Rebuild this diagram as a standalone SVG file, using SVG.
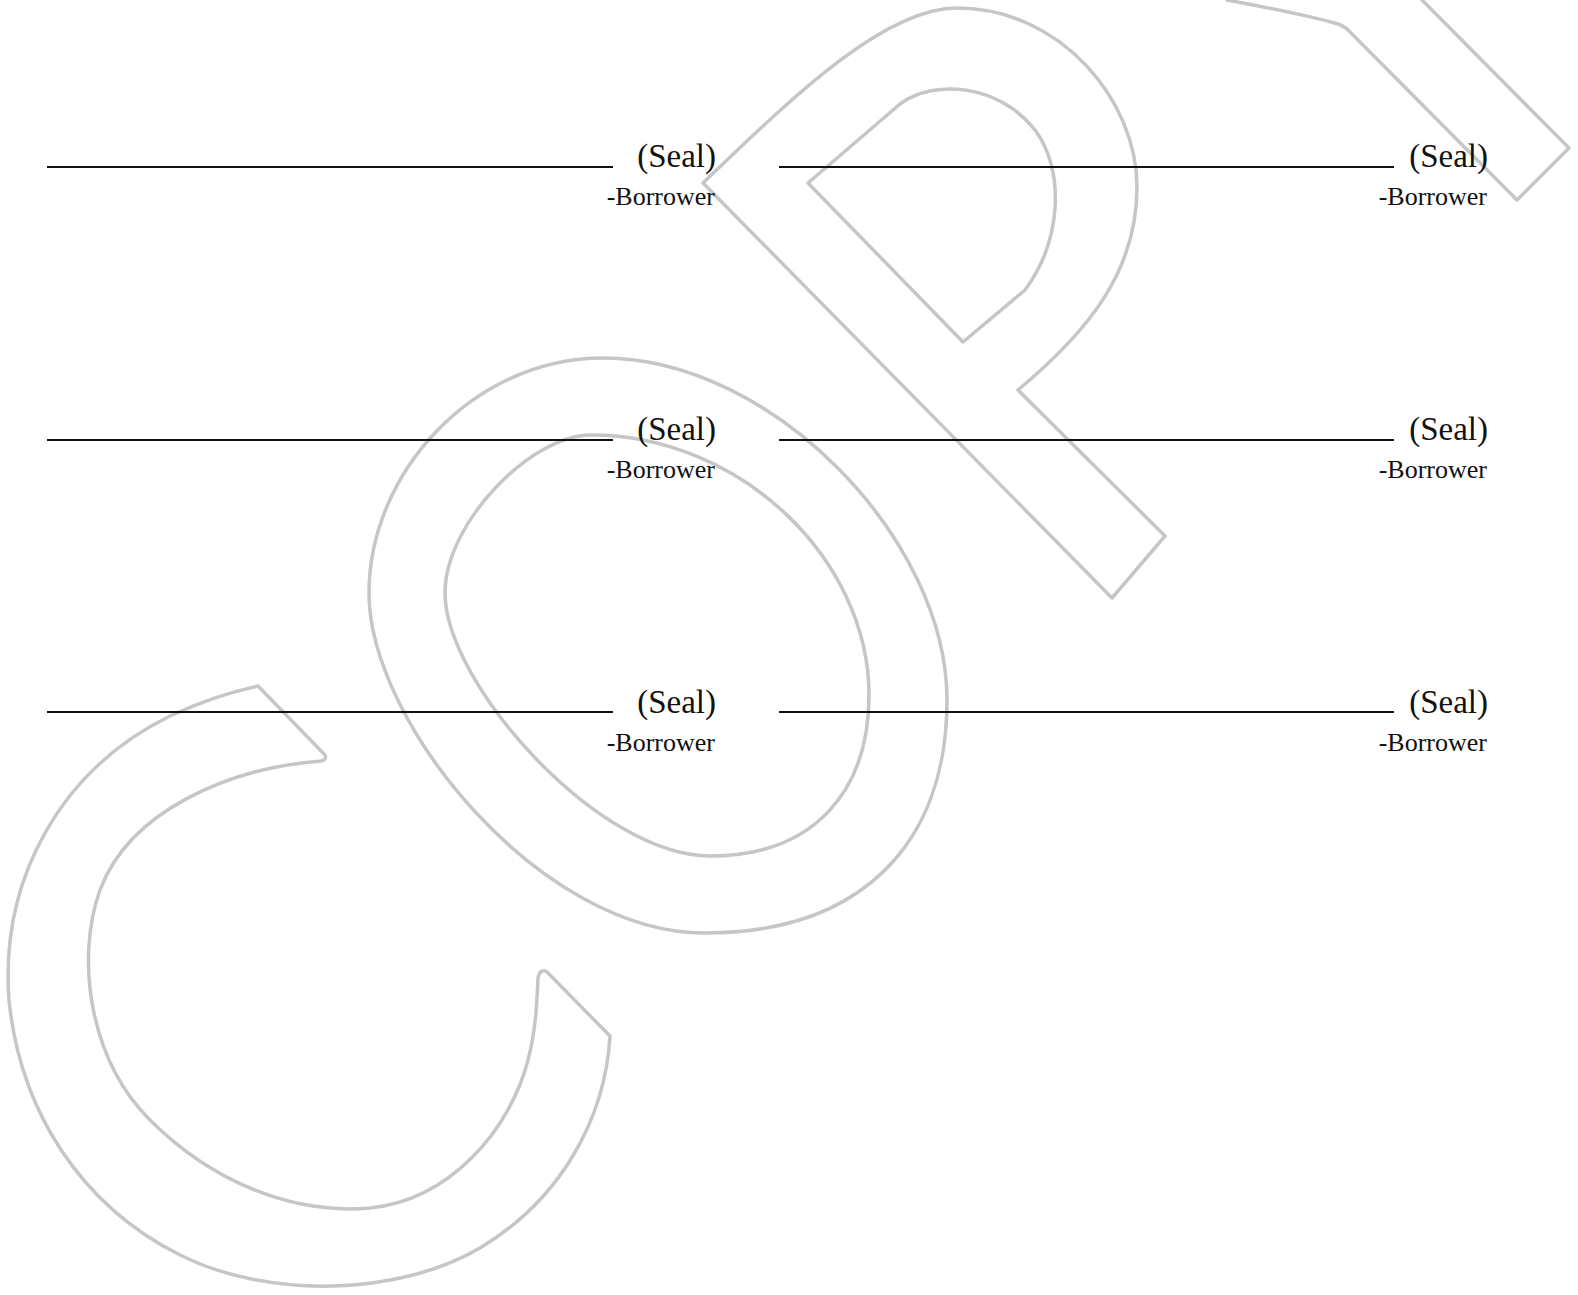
<svg xmlns="http://www.w3.org/2000/svg" width="1578" height="1295" viewBox="0 0 1578 1295">
<style>
.wm{fill:none;stroke:#c6c6c6;stroke-width:3.5;stroke-linejoin:round;stroke-linecap:round}
.sig{stroke:#111;stroke-width:2}
.seal{font-family:"Liberation Serif","Times New Roman",serif;font-size:33px;fill:#111;text-anchor:end}
.bor{font-family:"Liberation Serif","Times New Roman",serif;font-size:26px;fill:#111;text-anchor:end}
</style>
<rect width="1578" height="1295" fill="#ffffff"/>
<g id="watermark">
<path id="wm-c" class="wm" d="M 258 686 L 325 755 Q 327 760 321 761 C 230 768 130 810 100 890 C 75 960 90 1060 150 1120 C 210 1180 290 1215 370 1208 C 450 1200 510 1130 528 1060 C 536 1030 537 1000 538 978 Q 540 968 547 972 L 610 1036 C 605 1120 560 1200 480 1248 C 400 1295 270 1300 180 1255 C 80 1205 20 1110 9 1000 C 0 880 60 770 170 716 C 200 702 230 692 258 686 Z"/>
<path id="wm-o-outer" class="wm" d="M 603 358 C 773 358 947 540 947 700 C 947 845 860 933 705 933 C 540 933 369 723 369 593 C 369 473 473 358 603 358 Z"/>
<path id="wm-o-inner" class="wm" d="M 591 435 C 741 435 869 560 869 695 C 869 790 815 856 710 856 C 598 856 445 683 445 593 C 445 523 531 435 591 435 Z"/>
<path id="wm-p-outer" class="wm" d="M 703 183 C 780 110 880 8 957 8 C 1060 8 1137 100 1137 187 C 1137 270 1090 330 1018 390 L 1165 536 L 1112 598 Z"/>
<path id="wm-p-inner" class="wm" d="M 808 183 L 900 104 C 935 78 1000 85 1035 130 C 1065 170 1062 240 1025 290 L 963 342 Z"/>
<path id="wm-y" class="wm" d="M 1227 0 C 1270 8 1310 16 1338 24 Q 1346 27 1351 33 L 1517 200 L 1569 148 L 1422 0"/>
</g>
<g id="sig-1">
<line class="sig" x1="47" y1="167" x2="613" y2="167"/>
<text class="seal" x="716" y="167">(Seal)</text>
<text class="bor" x="715" y="205">-Borrower</text>
</g>
<g id="sig-2">
<line class="sig" x1="779" y1="167" x2="1394" y2="167"/>
<text class="seal" x="1488" y="167">(Seal)</text>
<text class="bor" x="1487" y="205">-Borrower</text>
</g>
<g id="sig-3">
<line class="sig" x1="47" y1="440" x2="613" y2="440"/>
<text class="seal" x="716" y="440">(Seal)</text>
<text class="bor" x="715" y="478">-Borrower</text>
</g>
<g id="sig-4">
<line class="sig" x1="779" y1="440" x2="1394" y2="440"/>
<text class="seal" x="1488" y="440">(Seal)</text>
<text class="bor" x="1487" y="478">-Borrower</text>
</g>
<g id="sig-5">
<line class="sig" x1="47" y1="712" x2="613" y2="712"/>
<text class="seal" x="716" y="713">(Seal)</text>
<text class="bor" x="715" y="751">-Borrower</text>
</g>
<g id="sig-6">
<line class="sig" x1="779" y1="712" x2="1394" y2="712"/>
<text class="seal" x="1488" y="713">(Seal)</text>
<text class="bor" x="1487" y="751">-Borrower</text>
</g>
</svg>
